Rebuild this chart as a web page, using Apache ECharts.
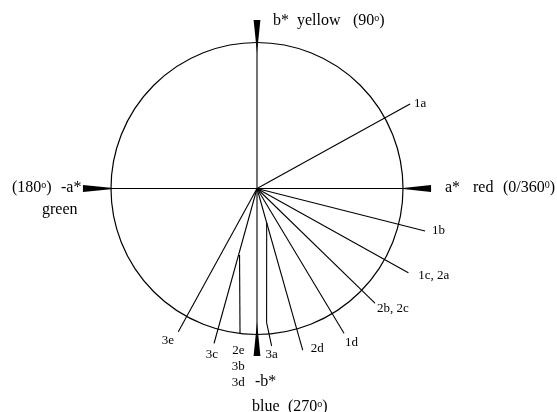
<!DOCTYPE html>
<html>
<head>
<meta charset="utf-8">
<script src="https://cdn.jsdelivr.net/npm/echarts@6/dist/echarts.min.js"></script>
<style>
  html, body { margin: 0; background: #fff; }
  #chart { width: 557px; height: 412px; }
</style>
</head>
<body>
<div id="chart"></div>
<script>
// hue angle lines (circle radius = 100)
const hueLabels = ['1a', '1b', '1c, 2a', '2b, 2c', '1d', '2d', '3c', '3e']
const hueAngles = [28.9, 345.8, 330.9, 315.8, 301.0, 285.8, 254.5, 241.2]
const hueLengths = [119.7, 118.7, 118.6, 112.7, 115.7, 115.0, 110.0, 111.9]

// leader lines that branch off a hue line, [radius, angle]
const leaderLabels = ['3a', '2e\n3b\n3d']
const leader3a = [[24.5, 285.7], [92.1, 274.1], [108.3, 275.3]]
const leader2e = [[47.1, 255.3], [99.7, 263.3]]

// a* / b* axes
const axisAngles = [0, 90, 180, 270]
const axisLengths = [119.2, 115.4, 119.2, 114.7]
const pointerTips = [97, 92.8, 95.2, 91.4]

const circleRadius = 100
const FONT = "'Liberation Serif', 'Times New Roman', serif"

// where each label sits relative to its line end: [dx, dy, align]
const labelOffset = {
  '1a': [4, 0, 'left'],
  '1b': [7, 0, 'left'],
  '1c, 2a': [10, 3, 'left'],
  '2b, 2c': [2, 5, 'left'],
  '1d': [1, 9.5, 'left'],
  '2d': [8, -1.7, 'left'],
  '3c': [-2.3, 11.7, 'center'],
  '3e': [-10.4, 9, 'center'],
  '3a': [0, 8.5, 'center'],
  '2e\n3b\n3d': [-1.7, 33.7, 'center']
}

const lineStyle = { color: '#000', width: 1.1 }

const rayLine = (data) => ({
  type: 'line',
  coordinateSystem: 'polar',
  data: data,
  symbol: 'none',
  clip: false,
  silent: true,
  animation: false,
  lineStyle: lineStyle
})

const series = []

// outer hue circle
series.push({
  type: 'custom',
  coordinateSystem: 'polar',
  silent: true,
  animation: false,
  data: [[circleRadius, 0]],
  renderItem: function (params, api) {
    const c = api.coord([0, 0])
    const p = api.coord([api.value(0), 0])
    return {
      type: 'circle',
      shape: { cx: c[0], cy: c[1], r: Math.hypot(p[0] - c[0], p[1] - c[1]) },
      style: { fill: null, stroke: '#000', lineWidth: 1.2 }
    }
  }
})

axisAngles.forEach((a, i) => series.push(rayLine([[0, a], [axisLengths[i], a]])))
hueAngles.forEach((a, i) => series.push(rayLine([[0, a], [hueLengths[i], a]])))
series.push(rayLine(leader3a))
series.push(rayLine(leader2e))

// black wedges on the axes
series.push({
  type: 'custom',
  coordinateSystem: 'polar',
  silent: true,
  animation: false,
  data: axisAngles.map((a, i) => [axisLengths[i], a, pointerTips[i]]),
  renderItem: function (params, api) {
    const ang = api.value(1)
    const base = api.coord([api.value(0), ang])
    const tip = api.coord([api.value(2), ang])
    const dx = tip[0] - base[0]
    const dy = tip[1] - base[1]
    const len = Math.hypot(dx, dy)
    const nx = -dy / len * 3.4
    const ny = dx / len * 3.4
    return {
      type: 'polygon',
      shape: { points: [[base[0] + nx, base[1] + ny], [base[0] - nx, base[1] - ny], tip] },
      style: { fill: '#000' }
    }
  }
})

// labels at line ends
const labelPoints = hueLabels.map((n, i) => ({ name: n, value: [hueLengths[i], hueAngles[i]] }))
labelPoints.push({ name: leaderLabels[0], value: leader3a[leader3a.length - 1] })
labelPoints.push({ name: leaderLabels[1], value: leader2e[leader2e.length - 1] })

series.push({
  type: 'scatter',
  coordinateSystem: 'polar',
  symbolSize: 0.5,
  silent: true,
  clip: false,
  animation: false,
  itemStyle: { color: '#000', opacity: 1 },
  data: labelPoints.map(p => {
    const o = labelOffset[p.name]
    return {
      name: p.name,
      value: p.value,
      label: {
        show: true,
        formatter: '{b}',
        position: [o[0] + 0.25, o[1] + 0.25],
        align: o[2],
        verticalAlign: 'middle',
        color: '#000',
        opacity: 1,
        textBorderWidth: 0,
        fontFamily: FONT,
        fontSize: 13,
        lineHeight: 16
      }
    }
  })
})

const sup = { fontSize: 10, verticalAlign: 'top', lineHeight: 10, padding: [0, 0, 6, 0], fontFamily: FONT, fill: '#000' }
const txt = (x, y, text) => ({
  type: 'text',
  x: x,
  y: y,
  silent: true,
  style: {
    text: text,
    fontFamily: FONT,
    fontSize: 16,
    fill: '#000',
    align: 'left',
    verticalAlign: 'middle',
    rich: { s: sup }
  }
})

const chart = echarts.init(document.getElementById('chart'), null, { renderer: 'canvas' })
chart.setOption({
  backgroundColor: '#fff',
  animation: false,
  // radius axis runs to 125 so the rays can reach past the circle at 100
  polar: { center: [257, 188.5], radius: 146 * 1.25 },
  angleAxis: {
    type: 'value',
    min: 0,
    max: 360,
    startAngle: 0,
    clockwise: false,
    axisLine: { show: false },
    axisTick: { show: false },
    axisLabel: { show: false },
    splitLine: { show: false }
  },
  radiusAxis: {
    type: 'value',
    min: 0,
    max: 125,
    axisLine: { show: false },
    axisTick: { show: false },
    axisLabel: { show: false },
    splitLine: { show: false }
  },
  graphic: [
    txt(273, 21, 'b*'),
    txt(297, 21, 'yellow'),
    txt(353, 21, '(90{s|o})'),
    txt(445, 188, 'a*'),
    txt(473, 188, 'red'),
    txt(503, 188, '(0/360{s|0})'),
    txt(12, 188, '(180{s|o})'),
    txt(61, 188, '-a*'),
    txt(42, 210, 'green'),
    txt(255, 382, '-b*'),
    txt(252, 407, 'blue'),
    txt(288, 407, '(270{s|o})')
  ],
  series: series
})
</script>
</body>
</html>
